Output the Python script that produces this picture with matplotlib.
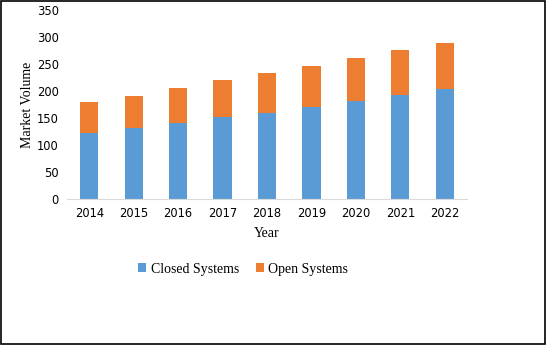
import numpy as np
import matplotlib
matplotlib.use("Agg")
import matplotlib.pyplot as plt
from matplotlib.patches import Rectangle

# Data
years = ["2014", "2015", "2016", "2017", "2018", "2019", "2020", "2021", "2022"]
closed_systems = [122, 132, 141, 151, 160, 171, 181, 192, 204]
open_systems = [58, 59, 64, 69, 73, 75, 80, 83, 84]

blue = "#5B9BD5"
orange = "#ED7D31"

fig = plt.figure(figsize=(5.47, 3.45), dpi=100)
ax = fig.add_axes([67 / 547, 1 - 199 / 345, 400 / 547, 189 / 345])

x = np.arange(len(years))
ax.bar(x, closed_systems, width=0.41, color=blue, label="Closed Systems")
ax.bar(x, open_systems, width=0.41, bottom=closed_systems, color=orange,
       label="Open Systems")

ax.set_xlim(-0.5, len(years) - 0.5)
ax.set_ylim(0, 350)
ax.set_yticks(range(0, 351, 50))
ax.set_xticks(x)
ax.set_xticklabels(years)

for side in ["top", "right", "left"]:
    ax.spines[side].set_visible(False)
ax.spines["bottom"].set_color("#D9D9D9")
ax.tick_params(axis="both", length=0, labelsize=8.3, colors="#000000")
ax.tick_params(axis="y", pad=6)
ax.tick_params(axis="x", pad=6)

ax.set_xlabel("Year", fontfamily="Liberation Serif", fontsize=10, labelpad=5)
ax.set_ylabel("Market Volume", fontfamily="Liberation Serif", fontsize=10,
              labelpad=2)

fig.legend(loc="center", bbox_to_anchor=(243 / 547, 1 - 269 / 345), ncol=2,
           frameon=False, prop={"family": "Liberation Serif", "size": 10},
           handlelength=0.6, handleheight=0.6, handletextpad=0.3,
           columnspacing=1.2)

# outer border
fig.patches.append(Rectangle((0.002, 0.003), 0.995, 0.993,
                             transform=fig.transFigure, fill=False,
                             edgecolor="black", linewidth=1.2))

fig.savefig("out.png", dpi=100)
